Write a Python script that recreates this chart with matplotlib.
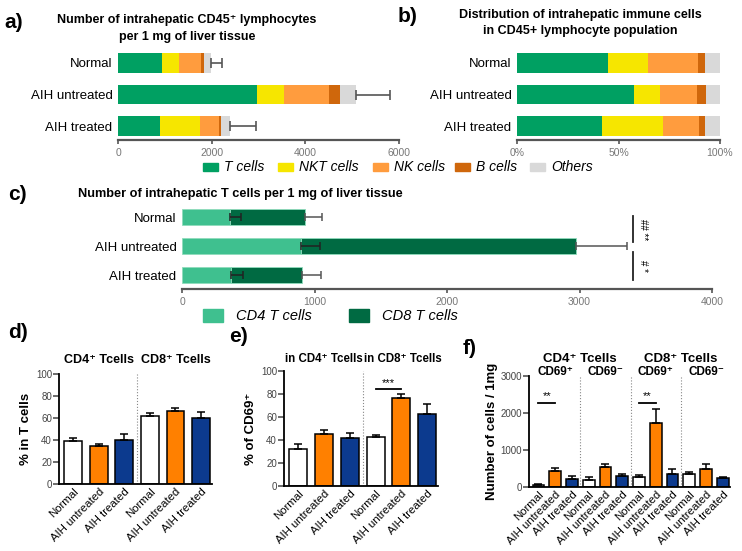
import matplotlib
matplotlib.use("Agg")
import matplotlib.pyplot as plt
import numpy as np

plt.rcParams['font.family'] = ['Liberation Sans', 'DejaVu Sans']

# ---- data ----
groups = ["Normal", "AIH untreated", "AIH treated"]
cell_types = ["T cells", "NKT cells", "NK cells", "B cells", "Others"]
cell_colors = ["#00a062", "#f6e600", "#ff9c3e", "#cf670c", "#d9d9d9"]

# a) counts per mg (stacked)
cnt_T = [946, 2968, 903]
cnt_NKT = [366, 580, 839]
cnt_NK = [451, 968, 409]
cnt_B = [65, 215, 43]
cnt_Oth = [150, 344, 193]
cnt_err = [237, 731, 559]

# b) distribution (%)
pct_T = [45.0, 57.7, 41.8]
pct_NKT = [19.7, 12.5, 30.3]
pct_NK = [24.7, 18.3, 17.4]
pct_B = [3.2, 4.8, 3.0]
pct_Oth = [7.4, 6.7, 7.5]

# c) T cells per mg
cd4_cnt = [361, 896, 368]
cd4_cnt_err = [82, 143, 93]
cd8_cnt = [571, 2079, 539]
tot_cnt_err = [125, 385, 143]

# d) % in T cells
d_cd4 = [38.7, 34.1, 40.2]
d_cd4_err = [3.0, 2.5, 5.4]
d_cd8 = [61.9, 66.8, 60.1]
d_cd8_err = [3.1, 2.7, 5.8]

# e) % of CD69+
e_cd4 = [32.0, 45.6, 41.9]
e_cd4_err = [4.9, 3.5, 4.3]
e_cd8 = [42.7, 76.7, 62.5]
e_cd8_err = [1.8, 3.5, 8.4]

# f) number of cells / 1mg
f_cd4_pos = [65, 430, 226]
f_cd4_pos_err = [25, 85, 64]
f_cd4_neg = [180, 540, 300]
f_cd4_neg_err = [90, 90, 60]
f_cd8_pos = [270, 1734, 360]
f_cd8_pos_err = [60, 362, 140]
f_cd8_neg = [340, 500, 245]
f_cd8_neg_err = [60, 130, 25]

grp_colors = ["white", "#ff8000", "#0c3a8e"]

W, H = 742, 551
fig = plt.figure(figsize=(W / 100, H / 100), dpi=100)


def ax_px(x0, y0, x1, y1):
    return fig.add_axes([x0 / W, 1 - y1 / H, (x1 - x0) / W, (y1 - y0) / H])


def ftext(x, y, s, **kw):
    fig.text(x / W, 1 - y / H, s, **kw)


def hbar_style(ax, ticks, labels):
    for s in ["top", "right", "left"]:
        ax.spines[s].set_visible(False)
    ax.spines["bottom"].set_color("#555555")
    ax.spines["bottom"].set_linewidth(1.6)
    ax.set_xticks(ticks)
    ax.set_xticklabels(labels, fontsize=7.5, color="#777777")
    ax.tick_params(axis="x", length=3, width=1.2, color="#555555", pad=3)
    ax.tick_params(axis="y", length=0, labelsize=9.5, pad=4)


ypos = np.arange(3)

# ---- a ----
ax = ax_px(118, 44, 399, 140)
left = np.zeros(3)
for vals, c in zip([cnt_T, cnt_NKT, cnt_NK, cnt_B, cnt_Oth], cell_colors):
    ax.barh(ypos, vals, left=left, height=0.63, color=c)
    left = left + np.array(vals)
ax.errorbar(left, ypos, xerr=[np.zeros(3), cnt_err], fmt="none", ecolor="#555555",
            elinewidth=1.2, capsize=3.5, capthick=1.2)
ax.set_xlim(0, 6000)
ax.set_ylim(2.44, -0.6)
ax.set_yticks(ypos)
ax.set_yticklabels(groups)
hbar_style(ax, [0, 2000, 4000, 6000], ["0", "2000", "4000", "6000"])
ftext(4, 22, "a)", fontsize=15, fontweight="bold", va="center")
ftext(187, 20, "Number of intrahepatic CD45⁺ lymphocytes", fontsize=9,
      fontweight="bold", ha="center", va="center")
ftext(187, 37, "per 1 mg of liver tissue", fontsize=9, fontweight="bold",
      ha="center", va="center")

# ---- b ----
ax = ax_px(517, 44, 720, 140)
left = np.zeros(3)
for vals, c in zip([pct_T, pct_NKT, pct_NK, pct_B, pct_Oth], cell_colors):
    ax.barh(ypos, vals, left=left, height=0.63, color=c)
    left = left + np.array(vals)
ax.set_xlim(0, 100)
ax.set_ylim(2.44, -0.6)
ax.set_yticks(ypos)
ax.set_yticklabels(groups)
hbar_style(ax, [0, 50, 100], ["0%", "50%", "100%"])
ftext(398, 17, "b)", fontsize=15, fontweight="bold", va="center")
ftext(580, 15, "Distribution of intrahepatic immune cells", fontsize=9,
      fontweight="bold", ha="center", va="center")
ftext(580, 31, "in CD45+ lymphocyte population", fontsize=9,
      fontweight="bold", ha="center", va="center")

# legend a/b
lx = [203, 278, 373, 455, 530]
for x, lab, c in zip(lx, cell_types, cell_colors):
    fig.patches.append(plt.Rectangle((x / W, 1 - 171 / H), 15 / W, 8 / H,
                                     transform=fig.transFigure, color=c))
    ftext(x + 21, 167, lab, fontsize=10, style="italic", va="center")

# ---- c ----
ax = ax_px(182, 200, 712, 289)
ax.barh(ypos, cd4_cnt, height=0.55, color="#3fc08f", edgecolor="#8fdcbc", linewidth=0.6)
ax.barh(ypos, cd8_cnt, left=cd4_cnt, height=0.55, color="#006a42",
        edgecolor="#8fdcbc", linewidth=0.6)
ax.errorbar(cd4_cnt, ypos, xerr=[np.zeros(3), cd4_cnt_err], fmt="none",
            ecolor="#222222", elinewidth=1.1, capsize=3, capthick=1.1)
tot = np.array(cd4_cnt) + np.array(cd8_cnt)
ax.errorbar(tot, ypos, xerr=[np.zeros(3), tot_cnt_err], fmt="none",
            ecolor="#555555", elinewidth=1.1, capsize=3, capthick=1.1)
ax.set_xlim(0, 4000)
ax.set_ylim(2.48, -0.6)
ax.set_yticks(ypos)
ax.set_yticklabels(groups)
hbar_style(ax, [0, 1000, 2000, 3000, 4000], ["0", "1000", "2000", "3000", "4000"])
ax.plot([3400, 3400], [-0.05, 0.86], color="#222222", lw=1.3, clip_on=False)
ax.plot([3400, 3400], [1.2, 2.17], color="#222222", lw=1.3, clip_on=False)
ax.text(3480, 0.42, "## **", rotation=270, fontsize=7, ha="center", va="center")
ax.text(3480, 1.68, "# *", rotation=270, fontsize=7, ha="center", va="center")
ftext(8, 194, "c)", fontsize=15, fontweight="bold", va="center")
ftext(78, 194, "Number of intrahepatic T cells per 1 mg of liver tissue",
      fontsize=9.2, fontweight="bold", va="center")

# legend c
for x, lab, c in zip([203, 349], ["CD4 T cells", "CD8 T cells"], ["#3fc08f", "#006a42"]):
    fig.patches.append(plt.Rectangle((x / W, 1 - 322 / H), 20 / W, 13 / H,
                                     transform=fig.transFigure, color=c))
    ftext(x + 33, 316, lab, fontsize=10.5, style="italic", va="center")


# ---- d, e, f ----
def col_panel(ax, vals_list, errs_list, ymax, yticks):
    n = len(vals_list) * 3
    x = np.arange(n)
    vals = np.concatenate(vals_list)
    errs = np.concatenate(errs_list)
    cols = grp_colors * len(vals_list)
    ax.bar(x, vals, width=0.7, color=cols, edgecolor="black", linewidth=1.1)
    ax.errorbar(x, vals, yerr=[np.zeros(n), errs], fmt="none", ecolor="black",
                elinewidth=1.1, capsize=3, capthick=1.1)
    for k in range(1, len(vals_list)):
        ax.axvline(3 * k - 0.5, color="#888888", lw=0.8, ls=":")
    ax.set_xlim(-0.56, n - 0.57)
    ax.set_ylim(0, ymax)
    ax.set_yticks(yticks)
    ax.tick_params(axis="y", labelsize=7, length=4, width=1.1, colors="#444444", pad=1)
    ax.tick_params(axis="x", length=0, pad=2)
    ax.set_xticks(x)
    ax.set_xticklabels(groups * len(vals_list), rotation=45, ha="right",
                       rotation_mode="anchor", fontsize=8.2)
    for s in ["top", "right"]:
        ax.spines[s].set_visible(False)
    for s in ["left", "bottom"]:
        ax.spines[s].set_linewidth(1.3)


ax = ax_px(59, 374, 212, 484)
col_panel(ax, [d_cd4, d_cd8], [d_cd4_err, d_cd8_err], 100, [0, 20, 40, 60, 80, 100])
ax.set_ylabel("% in T cells", fontsize=9.5, fontweight="bold", labelpad=3)
tr = ax.get_xaxis_transform()
ax.text(1, 1.13, "CD4⁺ Tcells", transform=tr, ha="center", va="center",
        fontsize=9, fontweight="bold")
ax.text(4, 1.13, "CD8⁺ Tcells", transform=tr, ha="center", va="center",
        fontsize=9, fontweight="bold")
ftext(8, 333, "d)", fontsize=15, fontweight="bold", va="center")

ax = ax_px(284, 371, 438, 486)
col_panel(ax, [e_cd4, e_cd8], [e_cd4_err, e_cd8_err], 100, [0, 20, 40, 60, 80, 100])
ax.set_ylabel("% of CD69⁺", fontsize=9.5, fontweight="bold", labelpad=3)
tr = ax.get_xaxis_transform()
ax.text(1, 1.1, "in CD4⁺ Tcells", transform=tr, ha="center", va="center",
        fontsize=8.3, fontweight="bold")
ax.text(4.05, 1.1, "in CD8⁺ Tcells", transform=tr, ha="center", va="center",
        fontsize=8.3, fontweight="bold")
ax.plot([3, 4], [84, 84], color="black", lw=1.3)
ax.text(3.5, 85, "***", ha="center", va="bottom", fontsize=8)
ftext(229, 336, "e)", fontsize=15, fontweight="bold", va="center")

ax = ax_px(529, 376, 730, 487)
col_panel(ax, [f_cd4_pos, f_cd4_neg, f_cd8_pos, f_cd8_neg],
          [f_cd4_pos_err, f_cd4_neg_err, f_cd8_pos_err, f_cd8_neg_err],
          3000, [0, 1000, 2000, 3000])
ax.set_ylabel("Number of cells / 1mg", fontsize=9.5, fontweight="bold", labelpad=2)
tr = ax.get_xaxis_transform()
ax.text(2.5, 1.15, "CD4⁺ Tcells", transform=tr, ha="center", va="center",
        fontsize=9.5, fontweight="bold")
ax.text(8.5, 1.15, "CD8⁺ Tcells", transform=tr, ha="center", va="center",
        fontsize=9.5, fontweight="bold")
for xc, lab in zip([1, 4, 7, 10], ["CD69⁺", "CD69⁻", "CD69⁺", "CD69⁻"]):
    ax.text(xc, 1.04, lab, transform=tr, ha="center", va="center",
            fontsize=8.5, fontweight="bold")
for x0 in [0, 6]:
    ax.plot([x0, x0 + 1], [2270, 2270], color="black", lw=1.3)
    ax.text(x0 + 0.5, 2330, "**", ha="center", va="bottom", fontsize=8)
ftext(463, 348, "f)", fontsize=15, fontweight="bold", va="center")

fig.savefig("out.png", dpi=100)
